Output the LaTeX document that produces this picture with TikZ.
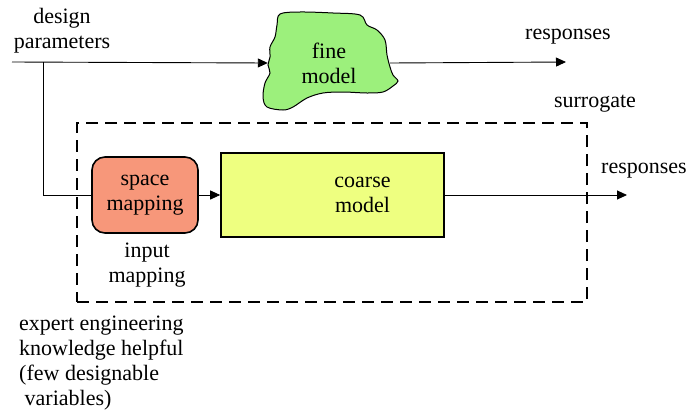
\documentclass[tikz,border=0pt]{standalone}
\usepackage{fontspec}
\newfontfamily\diagfont{LiberationSerif}[Extension=.ttf, UprightFont=*-Regular]
\usepackage{tikz}
\usetikzlibrary{arrows.meta, shapes}

\definecolor{finegreen}{RGB}{156,240,124}
\definecolor{smsalmon}{RGB}{247,151,122}
\definecolor{coarseyellow}{RGB}{238,255,128}

\tikzset{
  txt/.style={font=\diagfont\fontsize{22}{25}\selectfont, align=center, inner sep=0pt},
  modelbox/.style={draw=black, line width=1.6pt, inner sep=0pt},
  surrbox/.style={draw=black, line width=1.4pt, dash pattern=on 12pt off 7pt, inner sep=0pt}
}

\begin{document}
\begin{tikzpicture}[x=1pt, y=-1pt]
            \useasboundingbox (0,0) rectangle (690,415);

            % surrogate frame
            \node[surrbox, minimum width=510pt, minimum height=179pt] (sbox) at (332,212.5) {};

            % fine model blob
            \draw[line width=1pt, fill=finegreen] plot[smooth cycle, tension=0.55] coordinates {
                (280,14) (300,12) (333,13) (360,15) (367,25) (377,30) (385,40)
                (387,55) (390,67) (393,75) (398,81) (393,86) (383,92) (367,93)
                (343,92) (323,93) (307,98) (293,107) (283,110) (267,107)
                (263,97) (265,83) (270,73) (268,65) (270,57) (270,47) (275,37) (277,25)};

            \begin{scope}[every node/.style={txt}]
                \node (design) at (62,31) {design\\parameters};
                \node[minimum width=122pt] (fine) at (329,63) {fine\\model};
                \node (resp1) at (568,37) {responses};
                \node (surr) at (595,104) {surrogate};
                \node[modelbox, fill=smsalmon, rounded corners=13pt,
                      minimum width=106pt, minimum height=76pt] (space) at (145,195) {space\\mapping};
                \node[modelbox, fill=coarseyellow, minimum width=223pt, minimum height=84pt,
                      label={[txt, xshift=30pt]center:coarse\\model}] (coarse) at (332.5,195) {};
                \node (resp2) at (644,171) {responses};
                \node (inmap) at (147,265) {input\\mapping};
                \node[anchor=north west, align=left] (expert) at (19,316)
                    {expert engineering\\knowledge helpful\\(few designable\\\ variables)};
            \end{scope}

            \coordinate (start) at (12,62);
            \coordinate (split) at (43,62);
            \coordinate (out1) at (566,62);
            \coordinate (out2) at (627,195);

            \begin{scope}[>={Triangle[length=10pt, width=9pt]},
                          every edge/.style={draw=black, line width=0.9pt}]
                 \path[->] (start) edge (fine.west);
                 \path (split) edge[to path={|- (\tikztotarget)}] (space.west);
                 \path[->] (fine.east) edge (out1);
                 \path[->] (space.east) edge (coarse.west);
                 \path[->] (coarse.east) edge (out2);
            \end{scope}
\end{tikzpicture}
\end{document}
